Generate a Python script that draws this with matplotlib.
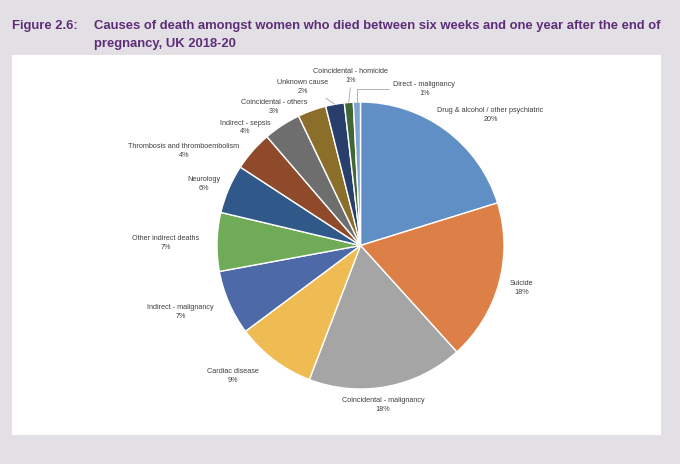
import numpy as np
import matplotlib
matplotlib.use('Agg')
import matplotlib.pyplot as plt
from matplotlib.patches import Rectangle

# datos (porcentaje de cada causa)
causas = ['Drug & alcohol / other psychiatric', 'Suicide', 'Coincidental - malignancy',
          'Cardiac disease', 'Indirect - malignancy', 'Other indirect deaths', 'Neurology',
          'Thrombosis and thromboembolism', 'Indirect - sepsis', 'Coincidental - others',
          'Unknown cause', 'Coincidental - homicide', 'Direct - malignancy']
valores = [20.2, 18.1, 17.5, 9.0, 7.3, 6.6, 5.5, 4.5, 4.2, 3.2, 2.1, 1.0, 0.8]
etiquetas_pct = ['20%', '18%', '18%', '9%', '7%', '7%', '6%', '4%', '4%', '3%', '2%', '1%', '1%']

colores = ['#5f8fc4', '#dc8047', '#a5a5a5', '#eebc52', '#4d69a7', '#70ab58', '#30598a',
           '#8e4a2b', '#6e6e6e', '#8b6e2a', '#283f6c', '#416834', '#7fa5d3']

# posicion de las etiquetas (en radios del pastel)
pos_etiquetas = [(0.906, 0.909), (1.125, -0.296), (0.157, -1.111), (-0.891, -0.909),
                 (-1.253, -0.463), (-1.355, 0.015), (-1.088, 0.426), (-1.23, 0.661),
                 (-0.805, 0.822), (-0.603, 0.967), (-0.403, 1.107), (-0.068, 1.183),
                 (0.445, 1.093)]
con_linea = [10, 11, 12]

W, H = 680, 474
fig = plt.figure(figsize=(W / 100, H / 100), dpi=100)
fig.patch.set_facecolor('white')

# fondo lila y panel blanco
fig.patches.append(Rectangle((0, 10 / H), 1, 1, transform=fig.transFigure,
                             facecolor='#e2dfe5', edgecolor='none', zorder=-2))
fig.patches.append(Rectangle((12 / W, 39 / H), 649 / W, 380 / H, transform=fig.transFigure,
                             facecolor='white', edgecolor='none', zorder=-1))

titulo_color = '#5e2d78'
fuente_titulo = ['Liberation Sans', 'DejaVu Sans']
tam_titulo = 9.4
fig.text(12 / W, 1 - 26 / H, 'Figure 2.6:', color=titulo_color, fontsize=tam_titulo,
         fontweight='bold', family=fuente_titulo, va='center', ha='left')
fig.text(94 / W, 1 - 26 / H, 'Causes of death amongst women who died between six weeks and one year after the end of',
         color=titulo_color, fontsize=tam_titulo, fontweight='bold', family=fuente_titulo,
         va='center', ha='left')
fig.text(94 / W, 1 - 44 / H, 'pregnancy, UK 2018-20', color=titulo_color, fontsize=tam_titulo,
         fontweight='bold', family=fuente_titulo, va='center', ha='left')

# ejes cuadrados del pastel: centro (360.5, 245.5) px, radio 143.5 px
R = 143.5
ax = fig.add_axes([(360.5 - R) / W, (H - 245.5 - R) / H, 2 * R / W, 2 * R / H])
wedges, _ = ax.pie(valores, colors=colores, startangle=90, counterclock=False,
                   wedgeprops=dict(edgecolor='white', linewidth=1.0))
ax.set_xlim(-1, 1)
ax.set_ylim(-1, 1)
ax.set_aspect('equal')
ax.axis('off')

tam_etiq = 5.2
for i, w in enumerate(wedges):
    tx, ty = pos_etiquetas[i]
    texto = causas[i] + '\n' + etiquetas_pct[i]
    if i in con_linea:
        ang = np.deg2rad((w.theta1 + w.theta2) / 2)
        punto = (np.cos(ang), np.sin(ang))
        if i == 12:
            props = dict(arrowstyle='-', color='#a6a6a6', lw=0.6, relpos=(0, 0.5),
                         connectionstyle='angle,angleA=180,angleB=90,rad=0', shrinkA=1, shrinkB=0)
        elif i == 10:
            props = dict(arrowstyle='-', color='#a6a6a6', lw=0.6, relpos=(0.85, 0),
                         shrinkA=1, shrinkB=0)
        else:
            props = dict(arrowstyle='-', color='#a6a6a6', lw=0.6, relpos=(0.5, 0),
                         shrinkA=1, shrinkB=0)
        ax.annotate(texto, xy=punto, xytext=(tx, ty), ha='center', va='center',
                    fontsize=tam_etiq, color='#404040', family='Liberation Sans',
                    linespacing=1.35, arrowprops=props, annotation_clip=False)
    else:
        ax.text(tx, ty, texto, ha='center', va='center', fontsize=tam_etiq, color='#404040',
                family='Liberation Sans', linespacing=1.35)

fig.savefig('out.png', dpi=100, facecolor=fig.get_facecolor())
